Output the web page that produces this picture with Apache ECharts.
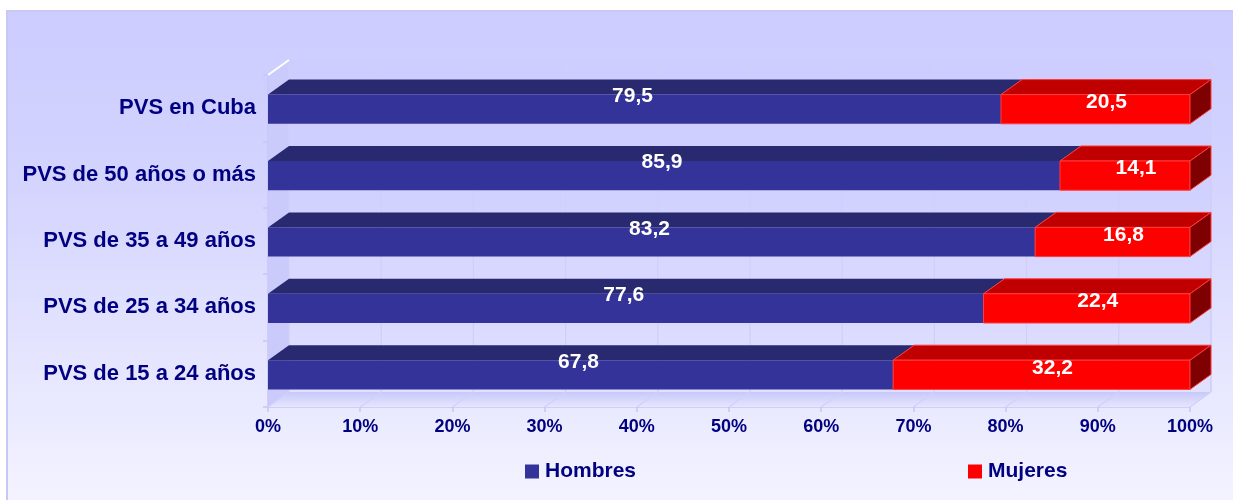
<!DOCTYPE html>
<html>
<head>
<meta charset="utf-8">
<script src="https://cdn.jsdelivr.net/npm/echarts@6/dist/echarts.min.js"></script>
<style>html,body{margin:0;padding:0;background:#fff}#c{width:1233px;height:500px}</style>
</head>
<body>
<div id="c"></div>
<script>
var categories = ['PVS en Cuba', 'PVS de 50 años o más', 'PVS de 35 a 49 años', 'PVS de 25 a 34 años', 'PVS de 15 a 24 años'];
var hombres = [79.5, 85.9, 83.2, 77.6, 67.8];
var mujeres = [20.5, 14.1, 16.8, 22.4, 32.2];
var tickValues = [0, 10, 20, 30, 40, 50, 60, 70, 80, 90, 100];

var DX = 21, DY = -15;
var FONT = 'Liberation Sans, Arial, sans-serif';
function fmt(v) { return v.toFixed(1).replace('.', ','); }

var chart = echarts.init(document.getElementById('c'), null, {renderer: 'canvas'});

function wallsRender(params, api) {
  var cs = params.coordSys;
  var x0 = cs.x, y0 = cs.y, x1 = cs.x + cs.width, y1 = cs.y + cs.height;
  var children = [];
  children.push({type: 'rect', shape: {x: x0 + DX, y: y0 + DY, width: cs.width, height: cs.height},
    style: {fill: 'rgba(200,200,255,0.25)'}});
  children.push({type: 'polygon', shape: {points: [[x0, y0], [x0 + DX, y0 + DY], [x0 + DX, y1 + DY], [x0, y1]]},
    style: {fill: '#cacafb'}});
  children.push({type: 'polygon', shape: {points: [[x0, y1], [x1, y1], [x1 + DX, y1 + DY], [x0 + DX, y1 + DY]]},
    style: {fill: new echarts.graphic.LinearGradient(0, 0, 0, 1, [{offset: 0, color: '#c8c8f9'}, {offset: 1, color: '#e6e6ff'}])}});
  tickValues.forEach(function (t) {
    var px = api.coord([t, 0])[0];
    children.push({type: 'line', shape: {x1: px + DX, y1: y0 + DY, x2: px + DX, y2: y1 + DY},
      style: {stroke: '#cfcff9', lineWidth: 1.2}});
    children.push({type: 'line', shape: {x1: px, y1: y1, x2: px + DX, y2: y1 + DY},
      style: {stroke: '#d0d0fa', lineWidth: 1.2}});
  });
  children.push({type: 'line', shape: {x1: x1 + DX, y1: y0 + DY, x2: x1 + DX, y2: y1 + DY},
    style: {stroke: '#cfcff9', lineWidth: 1.2}});
  children.push({type: 'line', shape: {x1: x0, y1: y0, x2: x0 + DX, y2: y0 + DY},
    style: {stroke: '#ffffff', lineWidth: 2}});
  return {type: 'group', children: children};
}

function makeBarRender(front, top, side, stroke, labelDx, labelDy, drawSide) {
  return function (params, api) {
    var cat = api.value(0);
    var p0 = api.coord([api.value(1), cat]);
    var p1 = api.coord([api.value(2), cat]);
    var band = api.size([0, 1])[1];
    var h = band * 0.44;
    var cy = p0[1] + 1;
    var yT = cy - h / 2, yB = cy + h / 2;
    var xa = p0[0], xb = p1[0];
    var st = stroke ? {stroke: stroke, lineWidth: 1} : {};
    var children = [];
    children.push({type: 'polygon', shape: {points: [[xa, yT], [xa + DX, yT + DY], [xb + DX, yT + DY], [xb, yT]]},
      style: Object.assign({fill: top}, st)});
    children.push({type: 'rect', shape: {x: xa, y: yT, width: xb - xa, height: h},
      style: Object.assign({fill: front}, st)});
    if (drawSide) {
      children.push({type: 'polygon', shape: {points: [[xb, yT], [xb + DX, yT + DY], [xb + DX, yB + DY], [xb, yB]]},
        style: Object.assign({fill: side}, st)});
    }
    children.push({type: 'text', style: {
      text: fmt(api.value(3)), x: (xa + xb) / 2 + labelDx, y: cy + labelDy,
      fill: '#ffffff', fontSize: 21, fontWeight: 'bold', fontFamily: FONT,
      align: 'center', verticalAlign: 'middle'}});
    return {type: 'group', children: children};
  };
}

var legendText = {color: '#000080', fontSize: 21, fontWeight: 'bold', fontFamily: FONT, padding: [0, 0, 0, 1]};
var option = {
  animation: false,
  graphic: [{
    type: 'rect', z: -10, silent: true,
    shape: {x: 7, y: 11, width: 1240, height: 500},
    style: {
      fill: new echarts.graphic.LinearGradient(0, 0, 0, 1, [{offset: 0, color: '#ccccff'}, {offset: 0.35, color: '#d4d4ff'}, {offset: 1, color: '#f4f4ff'}]),
      stroke: '#c8c8f6', lineWidth: 2
    }
  }],
  grid: {left: 268, right: 43, top: 75, bottom: 93, containLabel: false},
  legend: [
    {data: ['Hombres'], left: 520, top: 456, itemWidth: 14, itemHeight: 14, itemGap: 6, icon: 'rect', textStyle: legendText},
    {data: ['Mujeres'], left: 963, top: 456, itemWidth: 14, itemHeight: 14, itemGap: 6, icon: 'rect', textStyle: legendText}
  ],
  xAxis: {
    type: 'value', min: 0, max: 100, interval: 10,
    axisLine: {show: true, lineStyle: {color: '#c6c6f6', width: 1.5}},
    axisTick: {show: true, length: 5, lineStyle: {color: '#c6c6f6', width: 1.5}},
    splitLine: {show: false},
    axisLabel: {formatter: '{value}%', color: '#000080', fontSize: 18, fontWeight: 'bold', fontFamily: FONT, margin: 11}
  },
  yAxis: {
    type: 'category', inverse: true, data: categories,
    axisLine: {show: true, lineStyle: {color: '#c6c6f6', width: 1.5}},
    axisTick: {show: true, length: 5, lineStyle: {color: '#c6c6f6', width: 1.5}},
    splitLine: {show: false},
    axisLabel: {color: '#000080', fontSize: 22, fontWeight: 'bold', fontFamily: FONT, margin: 12}
  },
  series: [
    {
      type: 'custom', name: 'walls', silent: true, z: 1,
      renderItem: wallsRender, data: [[0, 0]], encode: {x: 0, y: 1}
    },
    {
      type: 'custom', name: 'Hombres', z: 3,
      itemStyle: {color: '#333399'},
      renderItem: makeBarRender('#333399', '#29296f', '#1e1e55', null, -2, -13, false),
      encode: {x: [1, 2], y: 0},
      data: hombres.map(function (v, i) { return [i, 0, v, v]; })
    },
    {
      type: 'custom', name: 'Mujeres', z: 4,
      itemStyle: {color: '#ff0000'},
      renderItem: makeBarRender('#ff0000', '#c00000', '#7f0000', '#ff3b3b', 11, -7, true),
      encode: {x: [1, 2], y: 0},
      data: mujeres.map(function (v, i) { return [i, hombres[i], hombres[i] + v, v]; })
    }
  ]
};
chart.setOption(option);
</script>
</body>
</html>
